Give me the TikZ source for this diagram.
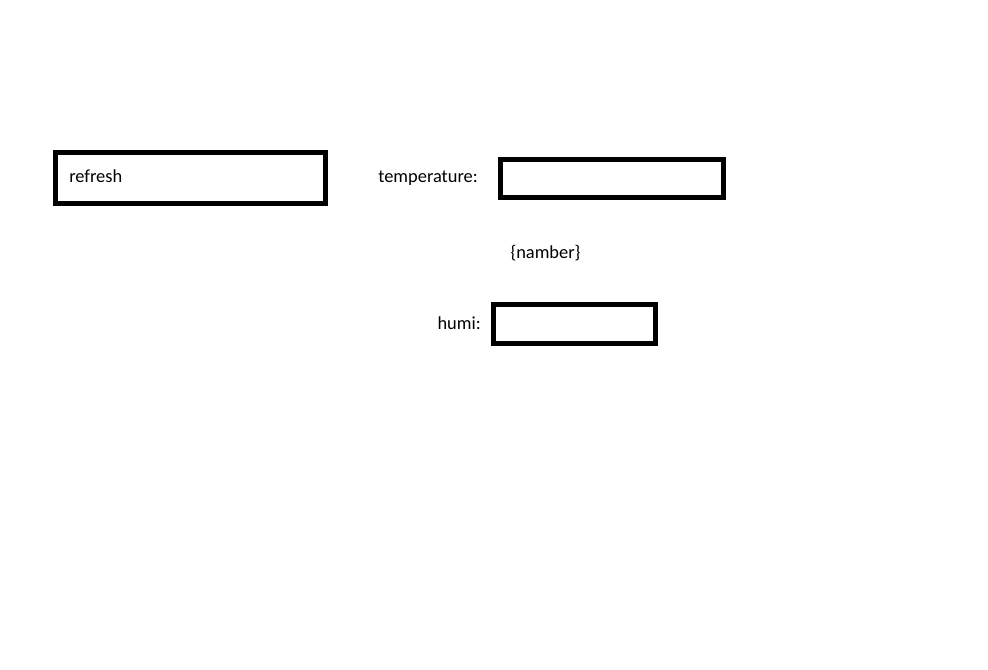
\documentclass[tikz,border=0pt]{standalone}
\usepackage{fontspec}
\setmainfont{Carlito}
\usepackage{tikz}

\begin{document}
\begin{tikzpicture}[x=0.75pt,y=-0.75pt,
    fieldbox/.style={draw,line width=3.5pt,rectangle,inner sep=0pt},
    lbl/.style={inner sep=0pt,font=\fontsize{13.8}{16}\selectfont}]
   \useasboundingbox (0,0) rectangle (988,669);

   % button
   \node[fieldbox,minimum width=270.5*0.75pt,minimum height=51.5*0.75pt] (refreshbox) at (190.5,178) {};
   \node[lbl,anchor=west] (refresh) at (69,176) {refresh};

   % temperature row
   \node[lbl,anchor=east] (templbl) at (478,178) {temperature:};
   \node[fieldbox,minimum width=223.5*0.75pt,minimum height=38*0.75pt] (tempbox) at (612,178.75) {};

   \node[lbl] (namber) at (545.5,253) {\{namber\}};

   % humidity row
   \node[lbl,anchor=east] (humilbl) at (481,323) {humi:};
   \node[fieldbox,minimum width=162.5*0.75pt,minimum height=39.5*0.75pt] (humibox) at (574.5,324) {};
\end{tikzpicture}
\end{document}
